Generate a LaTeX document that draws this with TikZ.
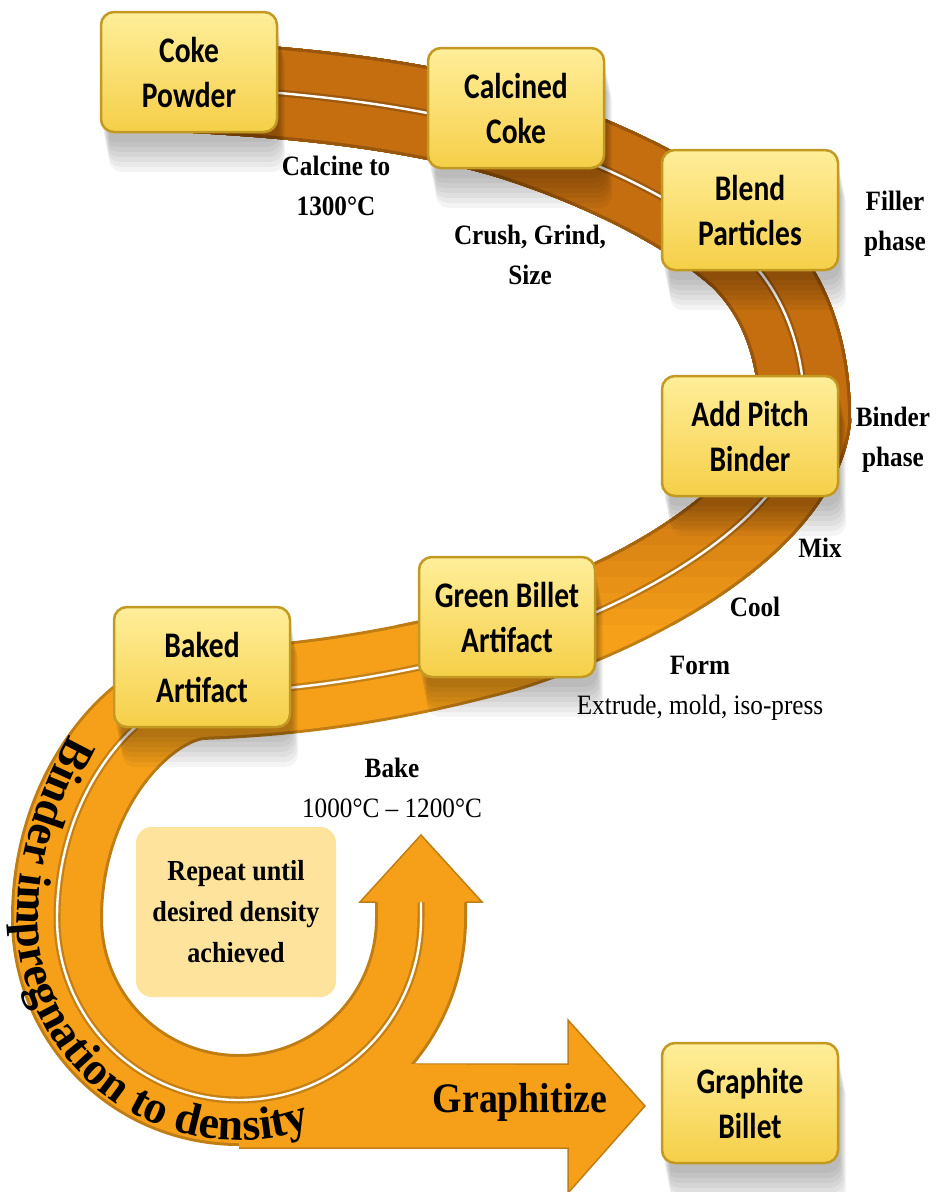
\documentclass[tikz,border=0pt]{standalone}
\usepackage{fontspec}
\newfontfamily\boxfont[FakeStretch=0.82]{Carlito}
\newfontfamily\lblfont[FakeStretch=0.9]{Liberation Serif}
\newfontfamily\curvefont{Liberation Serif}
\newcommand\curvestyle{\curvefont\bfseries\fontsize{46}{46}\selectfont}
\usetikzlibrary{shadows,decorations.text}

\definecolor{bandbrown}{HTML}{C46E10}
\definecolor{bandorange}{HTML}{F6A01A}
\definecolor{boxtop}{HTML}{FFEE9A}
\definecolor{boxbot}{HTML}{F5CF48}
\definecolor{boxedge}{HTML}{C29A22}
\definecolor{notefill}{HTML}{FDE39C}

\tikzset{
  softshadow/.style={drop shadow={shadow xshift=#1pt, shadow yshift=-#1pt*5, opacity=.045, fill=black}},
  stepbox/.style={draw=boxedge, line width=2.5pt, rounded corners=13pt,
    top color=boxtop, bottom color=boxbot, minimum width=176pt, minimum height=120pt,
    align=center, inner sep=2pt, font=\boxfont\bfseries\fontsize{36}{45}\selectfont,
    softshadow=2, softshadow=3, softshadow=4, softshadow=5, softshadow=6, softshadow=7, softshadow=8},
  note/.style={fill=notefill, rounded corners=16pt, minimum width=200pt, minimum height=170pt,
    align=center, font=\lblfont\bfseries\fontsize{29}{41}\selectfont},
  lbl/.style={align=center, font=\lblfont\bfseries\fontsize{28}{40}\selectfont},
  lblreg/.style={align=center, font=\lblfont\fontsize{28}{40}\selectfont},
  ribbon/.style={draw=white, line width=2.4pt,
    preaction={draw=#1!78!black, line width=92pt},
    preaction={draw=#1, line width=86pt},
    preaction={draw=#1!80!black, line width=7pt}},
  arrowfill/.style={fill=bandorange},
  arrowedge/.style={draw=bandorange!78!black, line width=1.5pt}
}

\begin{document}
\begin{tikzpicture}[x=1pt, y=-1pt]
  \useasboundingbox (0,0) rectangle (935,1192);
  \def\bandpath{(175,86) .. controls (300,92) and (420,105) .. (516,135)
    .. controls (600,162) and (690,205) .. (745,255)
    .. controls (785,295) and (805,350) .. (805,420)
    .. controls (795,500) and (680,590) .. (510,645)
    .. controls (420,670) and (320,690) .. (200,694)
    .. controls (140,700) and (57,790) .. (57,918)
    .. controls (57,1019) and (138,1100) .. (239,1100)
    .. controls (340,1100) and (421,1019) .. (421,918) -- (421,900)}
  \def\textpath{(70,735) .. controls (42,785) and (17,850) .. (17,918)
    .. controls (17,1041) and (116,1140) .. (239,1140)
    .. controls (285,1140) and (329,1126) .. (366,1100)}

  % graphitize arrow
  \fill[arrowfill] (239,1064) -- (568,1064) -- (568,1020) -- (645,1106) -- (568,1193) -- (568,1148) -- (239,1148) -- cycle;
  \draw[arrowedge] (239,1064) -- (568,1064) -- (568,1020) -- (645,1106) -- (568,1193) -- (568,1148) -- (239,1148);

  % ribbon, brown on top fading to orange
  \draw[ribbon=bandorange] \bandpath;
  \foreach \k in {1,...,10} {
    \pgfmathsetmacro\yc{640-16*\k}
    \pgfmathtruncatemacro\p{10*\k}
    \begin{scope}
      \clip (0,0) rectangle (935,\yc);
      \draw[ribbon=bandbrown!\p!bandorange] \bandpath;
    \end{scope}
  }
  \fill[arrowfill] (239,1147) -- (239,1118) arc[start angle=90, end angle=46.9, radius=200] -- (568,1065) -- (568,1147) -- cycle;

  % arrow head of the loop
  \fill[arrowfill] (360,902) -- (421,835) -- (482,902) -- cycle;
  \draw[arrowedge] (376,902) -- (360,902) -- (421,835) -- (482,902) -- (466,902);

  \path[decorate, decoration={text along path, text={|\curvestyle|Binder impregnation to density}}] \textpath;

  \node[stepbox] (coke) at (189,72) {Coke\\Powder};
  \node[stepbox] (calc) at (516,108) {Calcined\\Coke};
  \node[stepbox] (blend) at (750,210) {Blend\\Particles};
  \node[stepbox] (pitch) at (750,436) {Add Pitch\\Binder};
  \node[stepbox] (green) at (507,617) {Green Billet\\Artifact};
  \node[stepbox] (baked) at (202,667) {Baked\\Artifact};
  \node[stepbox] (graphite) at (750,1103) {Graphite\\Billet};
  \node[note] (repeat) at (236,912) {Repeat until\\desired density\\achieved};

  \node[lbl] (calcine) at (336,186) {Calcine to\\1300°C};
  \node[lbl] (crush) at (530,255) {Crush, Grind,\\Size};
  \node[lbl] (filler) at (895,224) {Filler\\phase};
  \node[lbl] (binder) at (893,440) {Binder\\phase};
  \node[lbl] (mix) at (820,548) {Mix};
  \node[lbl] (cool) at (755,607) {Cool};
  \node[lbl] (form) at (700,665) {Form};
  \node[lblreg] (extrude) at (700,708) {Extrude, mold, iso-press};
  \node[lbl] (bake) at (392,768) {Bake};
  \node[lblreg] (temp) at (392,808) {1000°C – 1200°C};
  \node[lbl, font=\lblfont\bfseries\fontsize{42}{42}\selectfont] (graphitize) at (520,1102) {Graphitize};
\end{tikzpicture}
\end{document}
